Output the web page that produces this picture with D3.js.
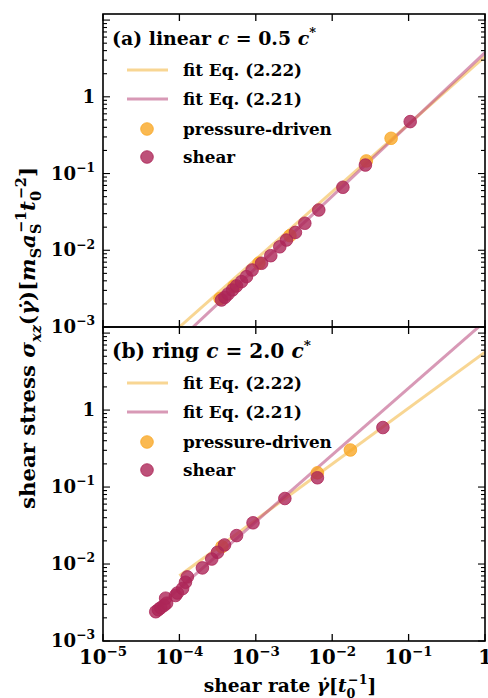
<!DOCTYPE html>
<html>
<head>
<meta charset="utf-8">
<script src="https://cdn.jsdelivr.net/npm/d3@7"></script>
<style>
  html, body { margin: 0; padding: 0; background: #fff; }
  svg { display: block; }
  text { font-family: "DejaVu Serif", serif; font-weight: bold; fill: #000; }
</style>
</head>
<body>
<svg id="chart" width="488" height="698"></svg>
<script>
// ---- data: shear stress vs shear rate ----
// panel (a): linear polymers, c = 0.5 c*
const linearShearRate    = [3.56e-4, 3.94e-4, 4.34e-4, 4.95e-4, 5.59e-4, 6.5e-4, 7.55e-4, 8.95e-4, 1.19e-3, 1.57e-3, 2.06e-3, 2.52e-3, 3.3e-3, 4.38e-3, 6.67e-3, 1.38e-2, 2.72e-2, 0.105];
const linearShearStress  = [0.00225, 0.00244, 0.00269, 0.00304, 0.00343, 0.0039, 0.00453, 0.00553, 0.00677, 0.0085, 0.0111, 0.0136, 0.0171, 0.0225, 0.0335, 0.0662, 0.129, 0.475];
const linearPressureRate   = [3.4e-4, 5.2e-4, 1.1e-3, 2.8e-3, 0.028, 0.059];
const linearPressureStress = [0.00235, 0.0034, 0.0068, 0.0155, 0.146, 0.288];
// fitted curves, given by their end points
const linearFit222Rate   = [1e-4, 1];
const linearFit222Stress = [1e-3, 3.34];
const linearFit221Rate   = [1.51e-4, 1];
const linearFit221Stress = [1e-3, 3.77];

// panel (b): ring polymers, c = 2.0 c*
const ringShearRate    = [4.9e-5, 5.3e-5, 5.7e-5, 6.3e-5, 6.8e-5, 6.6e-5, 8.9e-5, 9.4e-5, 1.1e-4, 1.2e-4, 1.27e-4, 2.0e-4, 2.65e-4, 3.15e-4, 3.9e-4, 5.6e-4, 9.2e-4, 2.4e-3, 6.4e-3, 0.0461];
const ringShearStress  = [0.0024, 0.00255, 0.0027, 0.0029, 0.0031, 0.0036, 0.0039, 0.0042, 0.0048, 0.0058, 0.0068, 0.0089, 0.0116, 0.0142, 0.0177, 0.0234, 0.0343, 0.071, 0.132, 0.593];
const ringPressureRate   = [3.6e-4, 6.4e-3, 0.0173];
const ringPressureStress = [0.0168, 0.153, 0.303];
const ringFit222Rate   = [1e-4, 1];
const ringFit222Stress = [0.00703, 5.64];
const ringFit221Rate   = [4.9e-5, 1];
const ringFit221Stress = [0.0026, 14.2];

// axis ticks
const xTickValues = [1e-5, 1e-4, 1e-3, 1e-2, 1e-1, 1];
const yTickValues = [1e-3, 1e-2, 1e-1, 1];
const yMajorUnlabelled = [10];

const panelTitles = [
  [{t: "(a) linear "}, {t: "c", i: true}, {t: " = 0.5 "}, {t: "c", i: true}, {t: "*", sup: true}],
  [{t: "(b) ring "}, {t: "c", i: true}, {t: " = 2.0 "}, {t: "c", i: true}, {t: "*", sup: true}]
];
const legendLabels = ["fit Eq. (2.22)", "fit Eq. (2.21)", "pressure-driven", "shear"];

// ---- styling ----
const colFit222 = "#f2b53a";
const colFit221 = "#b8457a";
const colPressure = "#f9a825";
const colShear = "#ad2657";

const svg = d3.select("#chart");
const left = 103, right = 485;
const yMin = 1e-3, yMax = 12;

const x = d3.scaleLog().domain([1e-5, 1]).range([left, right]);

const panels = [
  {top: 14, bottom: 327, shear: [linearShearRate, linearShearStress], pressure: [linearPressureRate, linearPressureStress],
   fits: [[linearFit222Rate, linearFit222Stress, colFit222], [linearFit221Rate, linearFit221Stress, colFit221]],
   title: panelTitles[0], titleWidth: 204, xLabels: false},
  {top: 327, bottom: 641, shear: [ringShearRate, ringShearStress], pressure: [ringPressureRate, ringPressureStress],
   fits: [[ringFit222Rate, ringFit222Stress, colFit222], [ringFit221Rate, ringFit221Stress, colFit221]],
   title: panelTitles[1], titleWidth: 199, xLabels: true}
];

// writes a run of text segments with italic / sub / superscript parts
function richText(sel, segs, baseSize) {
  sel.attr("font-size", baseSize);
  let shift = 0;
  segs.forEach(s => {
    const span = sel.append("tspan").text(s.t);
    let target = 0, size = baseSize;
    if (s.sub) { target = baseSize * 0.3; size = baseSize * 0.68; }
    if (s.sup) { target = -baseSize * 0.42; size = baseSize * 0.68; }
    span.attr("dy", target - shift).attr("font-size", size);
    if (s.i) span.attr("font-style", "italic");
    if (s.dx) span.attr("dx", s.dx * baseSize / 18);
    shift = target;
  });
}

// font size at which a run of segments spans the wanted width
function sizeFor(segs, wanted, trial) {
  const t = svg.append("text").attr("x", 0).attr("y", -100);
  richText(t, segs, trial);
  const w = t.node().getComputedTextLength();
  t.remove();
  return trial * wanted / w;
}

const powerSegs = v => {
  const e = Math.round(Math.log10(v));
  return e === 0 ? [{t: "1"}] : [{t: "10"}, {t: "\u2212" + Math.abs(e), sup: true}];
};
const yTickSize = sizeFor(powerSegs(0.1), 44, 18);
const xTickSize = sizeFor(powerSegs(1e-4), 48, 18);
const legendSize = sizeFor([{t: legendLabels[2]}], 149, 16);

panels.forEach((p, pi) => {
  const y = d3.scaleLog().domain([yMin, yMax]).range([p.bottom, p.top]);
  const g = svg.append("g");
  const clipId = "clip" + pi;
  svg.append("clipPath").attr("id", clipId)
    .append("rect").attr("x", left).attr("y", p.top).attr("width", right - left).attr("height", p.bottom - p.top);

  const plot = g.append("g").attr("clip-path", `url(#${clipId})`);
  const line = d3.line().x(d => x(d[0])).y(d => y(d[1]));

  // fit lines
  p.fits.forEach(([xs, ys, col]) => {
    plot.append("path").datum(xs.map((v, i) => [v, ys[i]]))
      .attr("d", line).attr("fill", "none").attr("stroke", col)
      .attr("stroke-opacity", 0.55).attr("stroke-width", 3);
  });

  // markers: pressure-driven underneath, shear on top
  const drawPts = (xs, ys, col) => {
    plot.append("g").selectAll("circle").data(xs.map((v, i) => [v, ys[i]])).join("circle")
      .attr("cx", d => x(d[0])).attr("cy", d => y(d[1])).attr("r", 6.3)
      .attr("fill", col).attr("fill-opacity", 0.8)
      .attr("stroke", col).attr("stroke-opacity", 0.8).attr("stroke-width", 1);
  };
  drawPts(p.pressure[0], p.pressure[1], colPressure);
  drawPts(p.shear[0], p.shear[1], colShear);

  // frame
  g.append("rect").attr("x", left).attr("y", p.top).attr("width", right - left).attr("height", p.bottom - p.top)
    .attr("fill", "none").attr("stroke", "#000").attr("stroke-width", 1.6);

  // x ticks (inward, top and bottom)
  xTickValues.forEach(v => {
    const xx = x(v);
    g.append("line").attr("x1", xx).attr("x2", xx).attr("y1", p.bottom).attr("y2", p.bottom - 7).attr("stroke", "#000").attr("stroke-width", 1.3);
    g.append("line").attr("x1", xx).attr("x2", xx).attr("y1", p.top).attr("y2", p.top + 7).attr("stroke", "#000").attr("stroke-width", 1.3);
  });

  // y ticks, majors and minors, on both sides
  const yMajors = yTickValues.concat(yMajorUnlabelled);
  const yMinors = [];
  for (let k = -3; k <= 1; k++) for (let m = 2; m <= 9; m++) {
    const v = m * Math.pow(10, k);
    if (v > yMin && v < yMax) yMinors.push(v);
  }
  const tick = (v, len) => {
    const yy = y(v);
    g.append("line").attr("x1", left).attr("x2", left + len).attr("y1", yy).attr("y2", yy).attr("stroke", "#000").attr("stroke-width", 1.1);
    g.append("line").attr("x1", right).attr("x2", right - len).attr("y1", yy).attr("y2", yy).attr("stroke", "#000").attr("stroke-width", 1.1);
  };
  yMajors.forEach(v => tick(v, 7));
  yMinors.forEach(v => tick(v, 4));

  // y tick labels
  yTickValues.forEach(v => {
    const t = g.append("text").attr("x", 95).attr("y", y(v) + 6).attr("text-anchor", "end");
    richText(t, powerSegs(v), yTickSize);
  });

  if (p.xLabels) {
    xTickValues.forEach(v => {
      const t = g.append("text").attr("x", x(v)).attr("y", 664).attr("text-anchor", "middle");
      richText(t, powerSegs(v), xTickSize);
    });
  }

  // panel title
  const tt = g.append("text").attr("x", 112).attr("y", p.top + 31);
  richText(tt, p.title, sizeFor(p.title, p.titleWidth, 18));

  // legend
  const rows = [p.top + 56, p.top + 85, p.top + 115, p.top + 143];
  [colFit222, colFit221].forEach((c, i) => {
    g.append("line").attr("x1", 127).attr("x2", 168).attr("y1", rows[i]).attr("y2", rows[i])
      .attr("stroke", c).attr("stroke-opacity", 0.55).attr("stroke-width", 3);
  });
  [colPressure, colShear].forEach((c, i) => {
    g.append("circle").attr("cx", 147).attr("cy", rows[i + 2]).attr("r", 6.3)
      .attr("fill", c).attr("fill-opacity", 0.8).attr("stroke", c).attr("stroke-opacity", 0.8).attr("stroke-width", 1);
  });
  legendLabels.forEach((s, i) => {
    g.append("text").attr("x", 183).attr("y", rows[i] + 6).attr("font-size", legendSize).text(s);
  });
});

// axis titles
const xTitleSegs = [{t: "shear rate "}, {t: "\u03b3\u0307", i: true}, {t: "["}, {t: "t", i: true}, {t: "0", sub: true}, {t: "\u22121", sup: true, dx: -7}, {t: "]"}];
const xTitle = svg.append("text").attr("x", 290).attr("y", 692).attr("text-anchor", "middle");
richText(xTitle, xTitleSegs, sizeFor(xTitleSegs, 180, 18));

const yTitleSegs = [
  {t: "shear stress "}, {t: "\u03c3", i: true}, {t: "xz", i: true, sub: true}, {t: "("}, {t: "\u03b3\u0307", i: true}, {t: ")["},
  {t: "m", i: true}, {t: "S", sub: true}, {t: "a", i: true}, {t: "S", sub: true}, {t: "\u22121", sup: true, dx: -8},
  {t: "t", i: true}, {t: "0", sub: true}, {t: "\u22122", sup: true, dx: -7}, {t: "]"}
];
const yTitle = svg.append("text").attr("transform", "translate(35,338) rotate(-90)").attr("text-anchor", "middle");
richText(yTitle, yTitleSegs, sizeFor(yTitleSegs, 360, 18));
</script>
</body>
</html>
